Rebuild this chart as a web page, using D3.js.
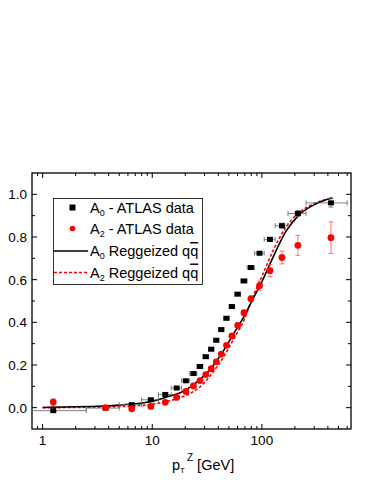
<!DOCTYPE html>
<html>
<head>
<meta charset="utf-8">
<script src="https://cdn.jsdelivr.net/npm/d3@7"></script>
<style>
  body { margin: 0; background: #fff; }
  svg text { font-family: "Liberation Sans", Arial, sans-serif; }
</style>
</head>
<body>
<div id="chart"></div>
<script>
// bin centres and edges (GeV)
var binCenters = [1.25, 3.75, 6.5, 9.7, 13.15, 16.7, 20.25, 23.75, 27.25, 30.8, 34.5, 38.4, 42.65, 47.55, 53.3, 60.15, 68.65, 79.4, 95.2, 118.5, 152.5, 213, 426.5];
var binLow = [0, 2.5, 5, 8, 11.4, 14.9, 18.5, 22, 25.5, 29, 32.6, 36.4, 40.4, 44.9, 50.2, 56.4, 63.9, 73.4, 85.4, 105, 132, 173, 253];
var binHigh = [2.5, 5, 8, 11.4, 14.9, 18.5, 22, 25.5, 29, 32.6, 36.4, 40.4, 44.9, 50.2, 56.4, 63.9, 73.4, 85.4, 105, 132, 173, 253, 600];

// A0 ATLAS
var a0Values = [-0.014, -0.002, 0.014, 0.037, 0.062, 0.092, 0.126, 0.16, 0.193, 0.239, 0.274, 0.316, 0.366, 0.419, 0.474, 0.532, 0.594, 0.657, 0.724, 0.789, 0.853, 0.91, 0.96];
var a0Errors = [0.006, 0.005, 0.005, 0.005, 0.005, 0.005, 0.005, 0.005, 0.005, 0.005, 0.005, 0.005, 0.005, 0.005, 0.005, 0.006, 0.006, 0.007, 0.008, 0.009, 0.012, 0.014, 0.02];

// A2 ATLAS
var a2Values = [0.026, 0.0, -0.005, 0.006, 0.025, 0.048, 0.076, 0.102, 0.127, 0.155, 0.183, 0.215, 0.251, 0.292, 0.336, 0.386, 0.445, 0.51, 0.572, 0.642, 0.704, 0.761, 0.797];
var a2Errors = [0.015, 0.008, 0.008, 0.007, 0.007, 0.007, 0.007, 0.007, 0.007, 0.007, 0.008, 0.008, 0.008, 0.008, 0.009, 0.01, 0.011, 0.014, 0.022, 0.028, 0.03, 0.047, 0.074];

// Reggeized q qbar curves
var curveX = [1, 2, 3.5, 5, 7, 10, 14, 18, 22, 27, 35, 45, 55, 70, 82, 100, 125, 165, 220, 310, 440];
var curveA0 = [0.001, 0.004, 0.008, 0.012, 0.018, 0.03, 0.052, 0.07, 0.095, 0.13, 0.19, 0.27, 0.345, 0.435, 0.505, 0.59, 0.70, 0.825, 0.905, 0.955, 0.984];
var curveA2 = [0.0, 0.001, 0.003, 0.005, 0.008, 0.016, 0.031, 0.047, 0.066, 0.095, 0.16, 0.24, 0.32, 0.42, 0.515, 0.615, 0.73, 0.845, 0.915, 0.96, 0.984];

var xTicks = [1, 10, 100];
var yTicks = [0.0, 0.2, 0.4, 0.6, 0.8, 1.0];

var width = 371, height = 480;
var mLeft = 32, mRight = 351, mTop = 173, mBottom = 429;

var svg = d3.select("#chart").append("svg")
  .attr("width", width)
  .attr("height", height);

var x = d3.scaleLog().domain([0.8, 650]).range([mLeft, mRight]);
var y = d3.scaleLinear().domain([-0.1, 1.1]).range([mBottom, mTop]);

svg.append("clipPath").attr("id", "plotclip")
  .append("rect").attr("x", mLeft).attr("y", mTop)
  .attr("width", mRight - mLeft).attr("height", mBottom - mTop);

// minor ticks on log axis
var minorX = [];
[0.1, 1, 10, 100].forEach(function (dec) {
  for (var k = 2; k <= 9; k++) {
    var v = dec * k;
    if (v > 0.8 && v < 650) minorX.push(v);
  }
});
var minorY = [0.1, 0.3, 0.5, 0.7, 0.9];

var axes = svg.append("g").attr("stroke", "#000").attr("stroke-width", 1);

// inward ticks on all four sides
function xTick(v, len) {
  axes.append("line").attr("x1", x(v)).attr("x2", x(v)).attr("y1", mBottom).attr("y2", mBottom - len);
  axes.append("line").attr("x1", x(v)).attr("x2", x(v)).attr("y1", mTop).attr("y2", mTop + len);
}
function yTick(v, len) {
  axes.append("line").attr("y1", y(v)).attr("y2", y(v)).attr("x1", mLeft).attr("x2", mLeft + len);
  axes.append("line").attr("y1", y(v)).attr("y2", y(v)).attr("x1", mRight).attr("x2", mRight - len);
}
xTicks.forEach(function (v) { xTick(v, 5); });
minorX.forEach(function (v) { xTick(v, 3); });
yTicks.forEach(function (v) { yTick(v, 5); });
minorY.forEach(function (v) { yTick(v, 3); });

svg.append("rect")
  .attr("x", mLeft).attr("y", mTop)
  .attr("width", mRight - mLeft).attr("height", mBottom - mTop)
  .attr("fill", "none").attr("stroke", "#000").attr("stroke-width", 1.3);

// tick labels
svg.selectAll("text.ylab").data(yTicks).enter().append("text")
  .attr("class", "ylab")
  .attr("x", mLeft - 5).attr("y", function (d) { return y(d) + 5; })
  .attr("text-anchor", "end").attr("font-size", 13.5)
  .text(function (d) { return d3.format(".1f")(d); });

svg.selectAll("text.xlab").data(xTicks).enter().append("text")
  .attr("class", "xlab")
  .attr("x", function (d) { return x(d); }).attr("y", mBottom + 16)
  .attr("text-anchor", "middle").attr("font-size", 13.5)
  .text(function (d) { return d; });

// axis title p_T^Z [GeV]
var xt = svg.append("text").attr("x", 172).attr("y", 470).attr("font-size", 14.5);
xt.append("tspan").text("p");
xt.append("tspan").attr("font-size", 8).attr("dy", 3).text("T");
xt.append("tspan").attr("font-size", 10).attr("dx", 2).attr("dy", -12).text("Z");
xt.append("tspan").attr("dy", 9).text(" [GeV]");

var plot = svg.append("g").attr("clip-path", "url(#plotclip)");

// curves
var line = d3.line().x(function (d) { return x(d[0]); }).y(function (d) { return y(d[1]); }).curve(d3.curveMonotoneX);

plot.append("path")
  .datum(curveX.map(function (v, i) { return [v, curveA2[i]]; }))
  .attr("d", line).attr("fill", "none")
  .attr("stroke", "#ff0000").attr("stroke-width", 1.6).attr("stroke-dasharray", "3,2");

plot.append("path")
  .datum(curveX.map(function (v, i) { return [v, curveA0[i]]; }))
  .attr("d", line).attr("fill", "none")
  .attr("stroke", "#000").attr("stroke-width", 1.6);

// A0 error bars (horizontal bin widths + vertical)
var a0 = binCenters.map(function (c, i) {
  return { x: c, lo: Math.max(binLow[i], 0.5), hi: binHigh[i], y: a0Values[i], e: a0Errors[i] };
});
var a2 = binCenters.map(function (c, i) {
  return { x: c, y: a2Values[i], e: a2Errors[i] };
});

var eb0 = plot.append("g").attr("stroke", "#666").attr("stroke-width", 0.8);
a0.forEach(function (d) {
  eb0.append("line").attr("x1", x(d.lo)).attr("x2", x(d.hi)).attr("y1", y(d.y)).attr("y2", y(d.y));
  eb0.append("line").attr("x1", x(d.lo)).attr("x2", x(d.lo)).attr("y1", y(d.y) - 2.5).attr("y2", y(d.y) + 2.5);
  eb0.append("line").attr("x1", x(d.hi)).attr("x2", x(d.hi)).attr("y1", y(d.y) - 2.5).attr("y2", y(d.y) + 2.5);
  eb0.append("line").attr("x1", x(d.x)).attr("x2", x(d.x)).attr("y1", y(d.y - d.e)).attr("y2", y(d.y + d.e));
  eb0.append("line").attr("x1", x(d.x) - 2.5).attr("x2", x(d.x) + 2.5).attr("y1", y(d.y - d.e)).attr("y2", y(d.y - d.e));
  eb0.append("line").attr("x1", x(d.x) - 2.5).attr("x2", x(d.x) + 2.5).attr("y1", y(d.y + d.e)).attr("y2", y(d.y + d.e));
});

var eb2 = plot.append("g").attr("stroke", "#ff5050").attr("stroke-width", 0.8);
a2.forEach(function (d) {
  eb2.append("line").attr("x1", x(d.x)).attr("x2", x(d.x)).attr("y1", y(d.y - d.e)).attr("y2", y(d.y + d.e));
  eb2.append("line").attr("x1", x(d.x) - 2.5).attr("x2", x(d.x) + 2.5).attr("y1", y(d.y - d.e)).attr("y2", y(d.y - d.e));
  eb2.append("line").attr("x1", x(d.x) - 2.5).attr("x2", x(d.x) + 2.5).attr("y1", y(d.y + d.e)).attr("y2", y(d.y + d.e));
});

// markers
plot.selectAll("rect.a0").data(a0).enter().append("rect")
  .attr("class", "a0")
  .attr("x", function (d) { return x(d.x) - 3; })
  .attr("y", function (d) { return y(d.y) - 2.5; })
  .attr("width", 6).attr("height", 5).attr("fill", "#000");

plot.selectAll("circle.a2").data(a2).enter().append("circle")
  .attr("class", "a2")
  .attr("cx", function (d) { return x(d.x); })
  .attr("cy", function (d) { return y(d.y); })
  .attr("r", 3.4).attr("fill", "#ff0000");

// legend
var lg = svg.append("g");
lg.append("rect").attr("x", 53.5).attr("y", 198.5).attr("width", 149).attr("height", 86)
  .attr("fill", "#fff").attr("stroke", "#000").attr("stroke-width", 0.8);

var legendRows = [207.5, 228.5, 251, 272.5];
lg.append("rect").attr("x", 69.5).attr("y", legendRows[0] - 3).attr("width", 6).attr("height", 6).attr("fill", "#000");
lg.append("circle").attr("cx", 72.5).attr("cy", legendRows[1]).attr("r", 2.8).attr("fill", "#ff0000");
lg.append("line").attr("x1", 54).attr("x2", 88).attr("y1", legendRows[2]).attr("y2", legendRows[2])
  .attr("stroke", "#000").attr("stroke-width", 1.6);
lg.append("line").attr("x1", 54).attr("x2", 88).attr("y1", legendRows[3]).attr("y2", legendRows[3])
  .attr("stroke", "#ff0000").attr("stroke-width", 1.6).attr("stroke-dasharray", "3,2");

function legendText(yy, sub, rest, qq) {
  var t = lg.append("text").attr("x", 90).attr("y", yy + 5).attr("font-size", 14.5);
  t.append("tspan").text("A");
  t.append("tspan").attr("font-size", 9).attr("dy", 3).text(sub);
  t.append("tspan").attr("dy", -3).text(rest);
  if (qq) {
    t.append("tspan").text("q");
    t.append("tspan").text("q").style("text-decoration", "overline");
  }
}
legendText(legendRows[0], "0", " - ATLAS data", false);
legendText(legendRows[1], "2", " - ATLAS data", false);
legendText(legendRows[2], "0", " Reggeized ", true);
legendText(legendRows[3], "2", " Reggeized ", true);
</script>
</body>
</html>
